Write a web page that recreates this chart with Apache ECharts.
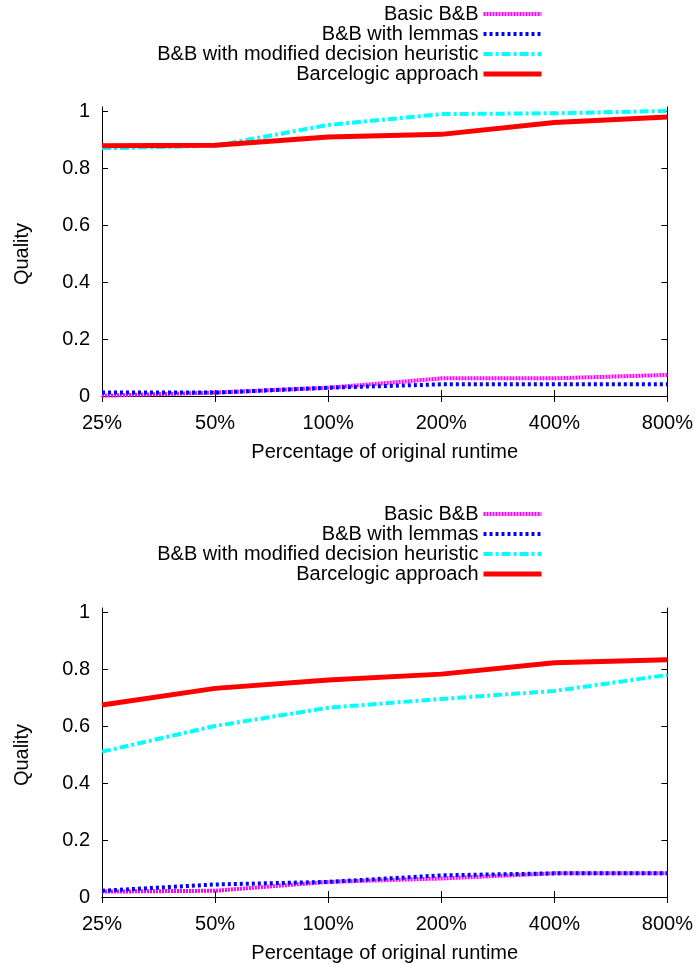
<!DOCTYPE html>
<html>
<head>
<meta charset="utf-8">
<script src="https://cdn.jsdelivr.net/npm/echarts@6/dist/echarts.min.js"></script>
<style>
  html, body { margin: 0; padding: 0; background: #fff; }
  #chart { width: 696px; height: 965px; }
</style>
</head>
<body>
<div id="chart"></div>
<script>
// categories + tick values
const runtimeLabels = ['25%', '50%', '100%', '200%', '400%', '800%'];
const qualityTicks = [0, 0.2, 0.4, 0.6, 0.8, 1];
const seriesNames = ['Basic B&B', 'B&B with lemmas', 'B&B with modified decision heuristic', 'Barcelogic approach'];

// upper plot
const basicTop = [0.001, 0.012, 0.029, 0.062, 0.062, 0.074];
const lemmasTop = [0.012, 0.012, 0.029, 0.041, 0.041, 0.041];
const heuristicTop = [0.869, 0.878, 0.951, 0.989, 0.992, 1.0];
const barcelogicTop = [0.878, 0.88, 0.909, 0.918, 0.96, 0.979];

// lower plot
const basicBottom = [0.019, 0.022, 0.053, 0.065, 0.083, 0.083];
const lemmasBottom = [0.022, 0.044, 0.053, 0.076, 0.083, 0.083];
const heuristicBottom = [0.51, 0.60, 0.664, 0.695, 0.723, 0.779];
const barcelogicBottom = [0.674, 0.732, 0.761, 0.782, 0.822, 0.832];

const font = 'Liberation Sans, Arial, Helvetica, sans-serif';
const fs = 20;
const styles = [
  { color: '#ff00ff', width: 4, type: [2, 1] },
  { color: '#0000ff', width: 4, type: [3, 3] },
  { color: '#00ffff', width: 4, type: [9, 3, 3, 3] },
  { color: '#ff0000', width: 5, type: 'solid' }
];

const chart = echarts.init(document.getElementById('chart'), null, { renderer: 'canvas' });

function xAxes(grid) {
  return [{
    type: 'category', gridIndex: grid, data: runtimeLabels, boundaryGap: false,
    axisLine: { lineStyle: { color: '#000', width: 1 } },
    axisTick: { inside: true, length: 6, lineStyle: { color: '#000' } },
    axisLabel: { color: '#000', fontSize: fs, fontFamily: font, margin: 12 },
    name: 'Percentage of original runtime', nameLocation: 'middle', nameGap: 41,
    nameTextStyle: { color: '#000', fontSize: fs, fontFamily: font }
  }, {
    type: 'category', gridIndex: grid, data: runtimeLabels, boundaryGap: false, position: 'top',
    axisLine: { lineStyle: { color: '#000', width: 1 } },
    axisTick: { inside: true, length: 6, lineStyle: { color: '#000' } },
    axisLabel: { show: false }
  }];
}

function yAxes(grid) {
  const common = {
    type: 'value', gridIndex: grid, min: -0.0175, max: 1.014,
    splitLine: { show: false },
    axisLine: { show: true, lineStyle: { color: '#000', width: 1 } },
    axisTick: { show: true, inside: true, length: 6, customValues: qualityTicks, lineStyle: { color: '#000' } }
  };
  return [Object.assign({}, common, {
    position: 'left',
    axisLabel: { color: '#000', fontSize: fs, fontFamily: font, margin: 12, customValues: qualityTicks },
    name: 'Quality', nameLocation: 'middle', nameGap: 70, nameRotate: 90,
    nameTextStyle: { color: '#000', fontSize: fs, fontFamily: font }
  }), Object.assign({}, common, {
    position: 'right',
    axisLabel: { show: false }
  })];
}

function lines(grid, arrays) {
  return arrays.map((d, i) => ({
    name: seriesNames[i], type: 'line', data: d,
    xAxisIndex: grid * 2, yAxisIndex: grid * 2,
    symbol: 'none', animation: false,
    lineStyle: { color: styles[i].color, width: styles[i].width, type: styles[i].type, cap: 'butt' },
    itemStyle: { color: styles[i].color }
  }));
}

function legend(top) {
  return {
    orient: 'vertical', right: 147, top: top, align: 'right',
    itemWidth: 58, itemHeight: 14, itemGap: 0,
    itemStyle: { opacity: 0 },
    textStyle: { color: '#000', fontSize: fs, fontFamily: font, lineHeight: 20 },
    data: seriesNames.map((n, i) => ({
      name: n,
      lineStyle: { color: styles[i].color, width: styles[i].width, type: styles[i].type, cap: 'butt' }
    })),
    selectedMode: false
  };
}

chart.setOption({
  animation: false,
  legend: [legend(-1), legend(499)],
  grid: [
    { left: 102, right: 27, top: 107, height: 294 },
    { left: 102, right: 27, top: 608, height: 294 }
  ],
  xAxis: xAxes(0).concat(xAxes(1)),
  yAxis: yAxes(0).concat(yAxes(1)),
  series: lines(0, [basicTop, lemmasTop, heuristicTop, barcelogicTop])
    .concat(lines(1, [basicBottom, lemmasBottom, heuristicBottom, barcelogicBottom]))
});
</script>
</body>
</html>
